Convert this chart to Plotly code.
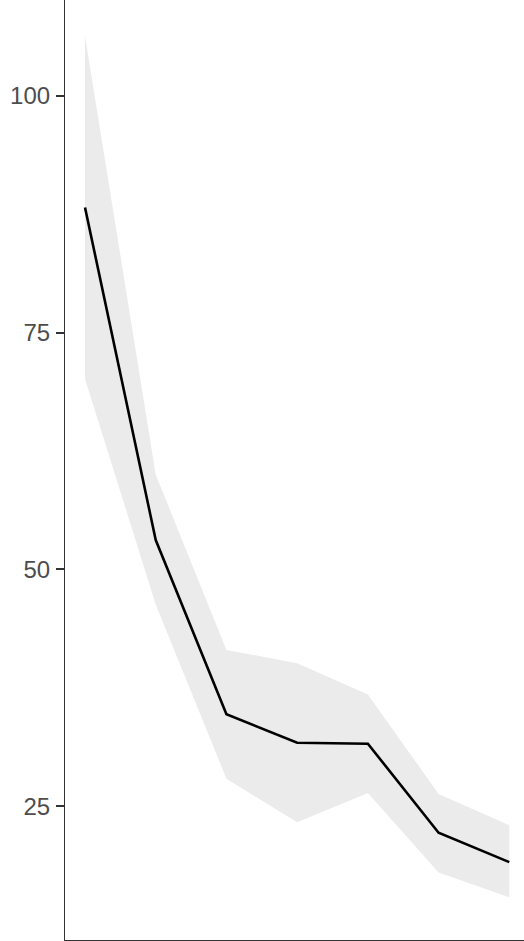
import plotly.graph_objects as go

# Step index along the x axis (no tick labels shown)
steps = [1, 2, 3, 4, 5, 6, 7]
# Central estimate and its interval bounds
estimate = [88.2, 53.1, 34.7, 31.7, 31.6, 22.2, 19.1]
upper = [106.3, 60.0, 41.5, 40.1, 36.8, 26.3, 23.0]
lower = [70.1, 46.3, 27.9, 23.3, 26.4, 18.0, 15.4]

y_ticks = [25, 50, 75, 100]

fig = go.Figure()

# Interval ribbon
fig.add_trace(go.Scatter(
    x=steps + steps[::-1],
    y=upper + lower[::-1],
    fill="toself",
    fillcolor="#ebebeb",
    line=dict(width=0),
    mode="lines",
    hoverinfo="skip",
    showlegend=False,
))

# Estimate line
fig.add_trace(go.Scatter(
    x=steps,
    y=estimate,
    mode="lines",
    line=dict(color="black", width=2.6),
    showlegend=False,
))

fig.update_layout(
    width=524,
    height=941,
    margin=dict(l=65, r=0, t=0, b=1),
    paper_bgcolor="white",
    plot_bgcolor="white",
    font=dict(family="Liberation Sans, Arial, sans-serif", color="#4d4d4d"),
)

fig.update_xaxes(
    range=[0.717, 7.208],
    showgrid=False,
    zeroline=False,
    showticklabels=False,
    ticks="",
    showline=True,
    linecolor="#333333",
    linewidth=1.2,
)

fig.update_yaxes(
    range=[10.88, 110.1],
    tickvals=y_ticks,
    ticktext=[str(v) for v in y_ticks],
    showgrid=False,
    zeroline=False,
    ticks="outside",
    ticklen=8,
    tickwidth=2,
    tickcolor="#333333",
    tickfont=dict(size=24, color="#4d4d4d"),
    ticklabelstandoff=1,
    showline=True,
    linecolor="#333333",
    linewidth=1.2,
)

fig.write_html("out.html")
